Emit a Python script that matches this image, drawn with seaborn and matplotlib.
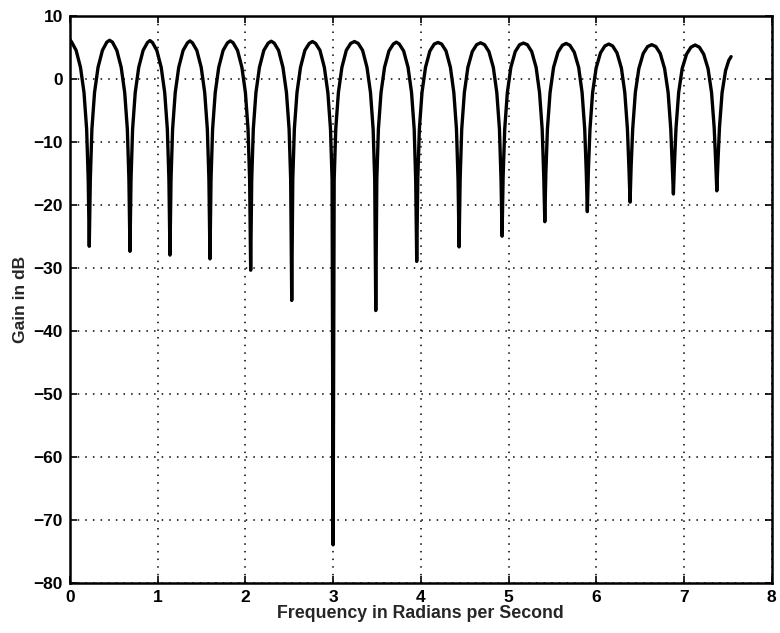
import matplotlib
matplotlib.use("Agg")
import matplotlib.pyplot as plt
import seaborn as sns
import pandas as pd

# Frequency (rad/s) and gain (dB) points
freq = [
    0.000, 0.020, 0.070, 0.120, 0.160, 0.190, 0.208, 0.220,
    0.232, 0.250, 0.280, 0.320, 0.370, 0.420, 0.452, 0.484, 0.534, 0.584, 0.624, 0.654, 0.672, 0.684,
    0.696, 0.714, 0.744, 0.784, 0.834, 0.884, 0.912, 0.940, 0.990, 1.040, 1.080, 1.110, 1.128, 1.140,
    1.152, 1.170, 1.200, 1.240, 1.290, 1.340, 1.368, 1.396, 1.446, 1.496, 1.536, 1.566, 1.584, 1.596,
    1.608, 1.626, 1.656, 1.696, 1.746, 1.796, 1.828, 1.860, 1.910, 1.960, 2.000, 2.030, 2.048, 2.060,
    2.072, 2.090, 2.120, 2.160, 2.210, 2.260, 2.294, 2.328, 2.378, 2.428, 2.468, 2.498, 2.516, 2.528,
    2.540, 2.558, 2.588, 2.628, 2.678, 2.728, 2.764, 2.800, 2.850, 2.900, 2.940, 2.970, 2.988, 3.000,
    3.012, 3.030, 3.060, 3.100, 3.150, 3.200, 3.243, 3.286, 3.336, 3.386, 3.426, 3.456, 3.474, 3.486,
    3.498, 3.516, 3.546, 3.586, 3.636, 3.686, 3.720, 3.754, 3.804, 3.854, 3.894, 3.924, 3.941, 3.953,
    3.965, 3.983, 4.013, 4.053, 4.103, 4.153, 4.195, 4.237, 4.287, 4.337, 4.376, 4.406, 4.424, 4.436,
    4.448, 4.466, 4.496, 4.536, 4.586, 4.636, 4.681, 4.726, 4.776, 4.826, 4.866, 4.896, 4.914, 4.926,
    4.938, 4.956, 4.986, 5.026, 5.076, 5.126, 5.170, 5.214, 5.264, 5.314, 5.353, 5.383, 5.401, 5.413,
    5.425, 5.443, 5.473, 5.513, 5.563, 5.613, 5.656, 5.699, 5.749, 5.799, 5.838, 5.868, 5.886, 5.898,
    5.910, 5.928, 5.958, 5.998, 6.048, 6.098, 6.142, 6.186, 6.236, 6.286, 6.325, 6.355, 6.373, 6.385,
    6.397, 6.415, 6.445, 6.485, 6.535, 6.585, 6.632, 6.679, 6.729, 6.779, 6.819, 6.849, 6.867, 6.879,
    6.891, 6.909, 6.939, 6.979, 7.029, 7.079, 7.127, 7.175, 7.224, 7.274, 7.314, 7.344, 7.362, 7.374,
    7.386, 7.404, 7.434, 7.474, 7.510, 7.537,
]
gain = [
    6.2, 5.8, 4.5, 1.8, -2.2, -8.0, -16.0, -26.6,
    -16.0, -8.0, -2.2, 1.8, 4.5, 5.8, 6.1, 5.8, 4.5, 1.8, -2.2, -8.0, -16.0, -27.4,
    -16.0, -8.0, -2.2, 1.8, 4.5, 5.75, 6.05, 5.75, 4.5, 1.8, -2.2, -8.0, -16.0, -28.0,
    -16.0, -8.0, -2.2, 1.8, 4.5, 5.7, 6.0, 5.7, 4.5, 1.8, -2.2, -8.0, -16.0, -28.6,
    -16.0, -8.0, -2.2, 1.8, 4.5, 5.7, 6.0, 5.7, 4.5, 1.8, -2.2, -8.0, -16.0, -30.4,
    -16.0, -8.0, -2.2, 1.8, 4.5, 5.65, 5.95, 5.65, 4.5, 1.8, -2.2, -8.0, -16.0, -35.2,
    -16.0, -8.0, -2.2, 1.8, 4.5, 5.6, 5.9, 5.6, 4.5, 1.8, -2.2, -8.0, -16.0, -74.0,
    -16.0, -8.0, -2.2, 1.8, 4.5, 5.6, 5.9, 5.6, 4.5, 1.8, -2.2, -8.0, -16.0, -36.8,
    -16.0, -8.0, -2.2, 1.8, 4.4, 5.5, 5.8, 5.5, 4.4, 1.8, -2.2, -8.0, -16.0, -29.0,
    -16.0, -8.0, -2.2, 1.8, 4.4, 5.5, 5.75, 5.5, 4.4, 1.8, -2.2, -8.0, -16.0, -26.7,
    -16.0, -8.0, -2.2, 1.8, 4.3, 5.4, 5.7, 5.4, 4.3, 1.8, -2.2, -8.0, -16.0, -25.0,
    -15.5, -8.0, -2.2, 1.8, 4.3, 5.4, 5.65, 5.4, 4.3, 1.8, -2.2, -8.0, -15.5, -22.7,
    -15.0, -8.0, -2.2, 1.8, 4.2, 5.3, 5.6, 5.3, 4.2, 1.8, -2.2, -8.0, -15.0, -21.1,
    -14.5, -8.0, -2.2, 1.7, 4.1, 5.2, 5.5, 5.2, 4.1, 1.7, -2.2, -8.0, -14.5, -19.6,
    -14.0, -8.0, -2.2, 1.6, 4.0, 5.1, 5.4, 5.1, 4.0, 1.6, -2.2, -8.0, -14.0, -18.3,
    -13.5, -7.8, -2.2, 1.6, 3.9, 5.0, 5.35, 5.0, 3.9, 1.6, -2.2, -7.8, -13.5, -17.8,
    -13.5, -7.8, -2.2, 1.3, 2.9, 3.5,
]

x_ticks = [0, 1, 2, 3, 4, 5, 6, 7, 8]
y_ticks = [10, 0, -10, -20, -30, -40, -50, -60, -70, -80]

sns.set_theme(style="white")
plt.rcParams["font.family"] = ["Liberation Sans", "DejaVu Sans"]

df = pd.DataFrame({"freq": freq, "gain": gain})

fig = plt.figure(figsize=(7.8, 6.33), dpi=100)
ax = fig.add_axes([0.0897, 0.0795, 0.8997, 0.8957])

sns.lineplot(data=df, x="freq", y="gain", estimator=None, sort=False,
             color="black", linewidth=2.4, ax=ax)

ax.set_xlim(0, 8)
ax.set_ylim(-80, 10)
ax.set_xticks(x_ticks)
ax.set_yticks(y_ticks)
ax.set_xticklabels([str(t) for t in x_ticks], fontweight="bold", fontsize=12.5)
ax.set_yticklabels([("\u2212" + str(-t)) if t < 0 else str(t) for t in y_ticks],
                   fontweight="bold", fontsize=12.5)
ax.grid(True, color="black", linestyle=(0, (1, 4)), linewidth=1.1)
ax.tick_params(direction="in", length=5, width=1.2, top=True, right=True,
               bottom=True, left=True, colors="black")
ax.tick_params(axis="x", pad=5.5)
ax.tick_params(axis="y", pad=5)
for s in ax.spines.values():
    s.set_color("black")
    s.set_linewidth(1.8)

ax.set_xlabel("Frequency in Radians per Second", fontweight="bold", fontsize=12.8, labelpad=0)
ax.set_ylabel("Gain in dB", fontweight="bold", fontsize=12.5, labelpad=4)

fig.savefig("out.png", dpi=100, facecolor="white")
